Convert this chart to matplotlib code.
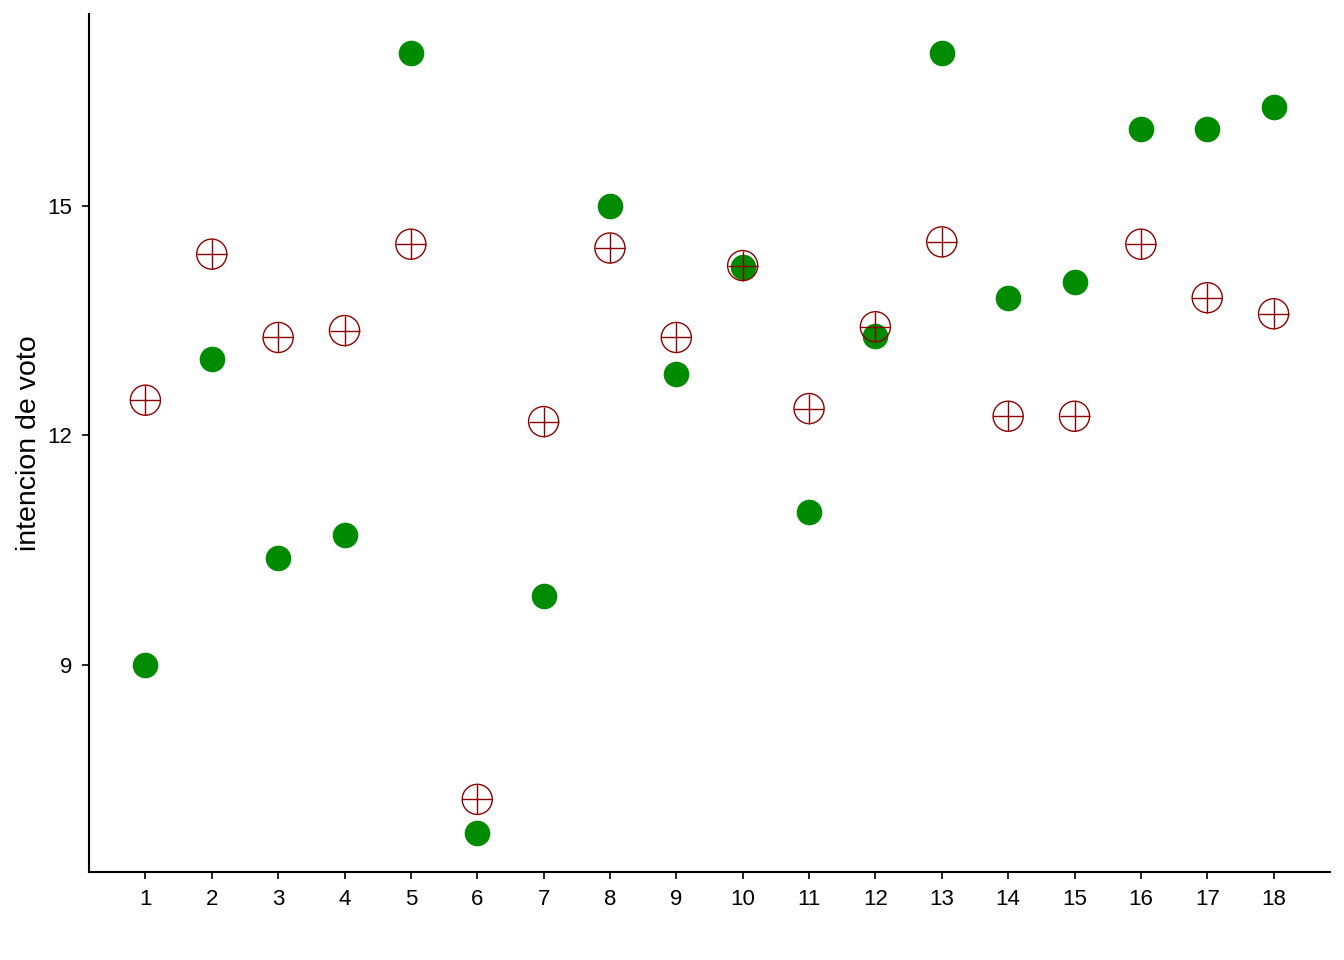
import matplotlib
matplotlib.use("Agg")
import matplotlib.pyplot as plt

plt.rcParams["font.family"] = ["Liberation Sans", "DejaVu Sans"]

# Intencion de voto por observacion
obs = list(range(1, 19))
verde = [9.0, 13.0, 10.4, 10.7, 17.0, 6.8, 9.9, 15.0, 12.8,
         14.2, 11.0, 13.3, 17.0, 13.8, 14.0, 16.0, 16.0, 16.3]
rojo = [12.46, 14.37, 13.28, 13.37, 14.50, 7.24, 12.18, 14.45, 13.28,
        14.22, 12.35, 13.42, 14.53, 12.25, 12.25, 14.50, 13.80, 13.59]

fig = plt.figure(figsize=(13.44, 9.6), dpi=100)
ax = fig.add_axes([89 / 1344, 1 - 872 / 960, (1330 - 89) / 1344, (872 - 14) / 960])

ax.scatter(obs, verde, s=340, color="#008B00", linewidths=0, zorder=2)
ax.scatter(obs, rojo, s=470, facecolors="none", edgecolors="#8B0000",
           linewidths=1.0, zorder=3)
ax.scatter(obs, rojo, s=470, marker="+", color="#8B0000",
           linewidths=1.0, zorder=3)

ax.set_xlim(0.15, 18.85)
ax.set_ylim(6.29, 17.51)
ax.set_xticks(obs)
ax.set_yticks([9, 12, 15])
ax.set_ylabel("intencion de voto", fontsize=20.5, labelpad=4)

for side in ["top", "right"]:
    ax.spines[side].set_visible(False)
for side in ["left", "bottom"]:
    ax.spines[side].set_linewidth(1.5)
ax.tick_params(length=5, width=1.2, labelsize=16, colors="black", pad=7)

fig.savefig("out.png", dpi=100)
